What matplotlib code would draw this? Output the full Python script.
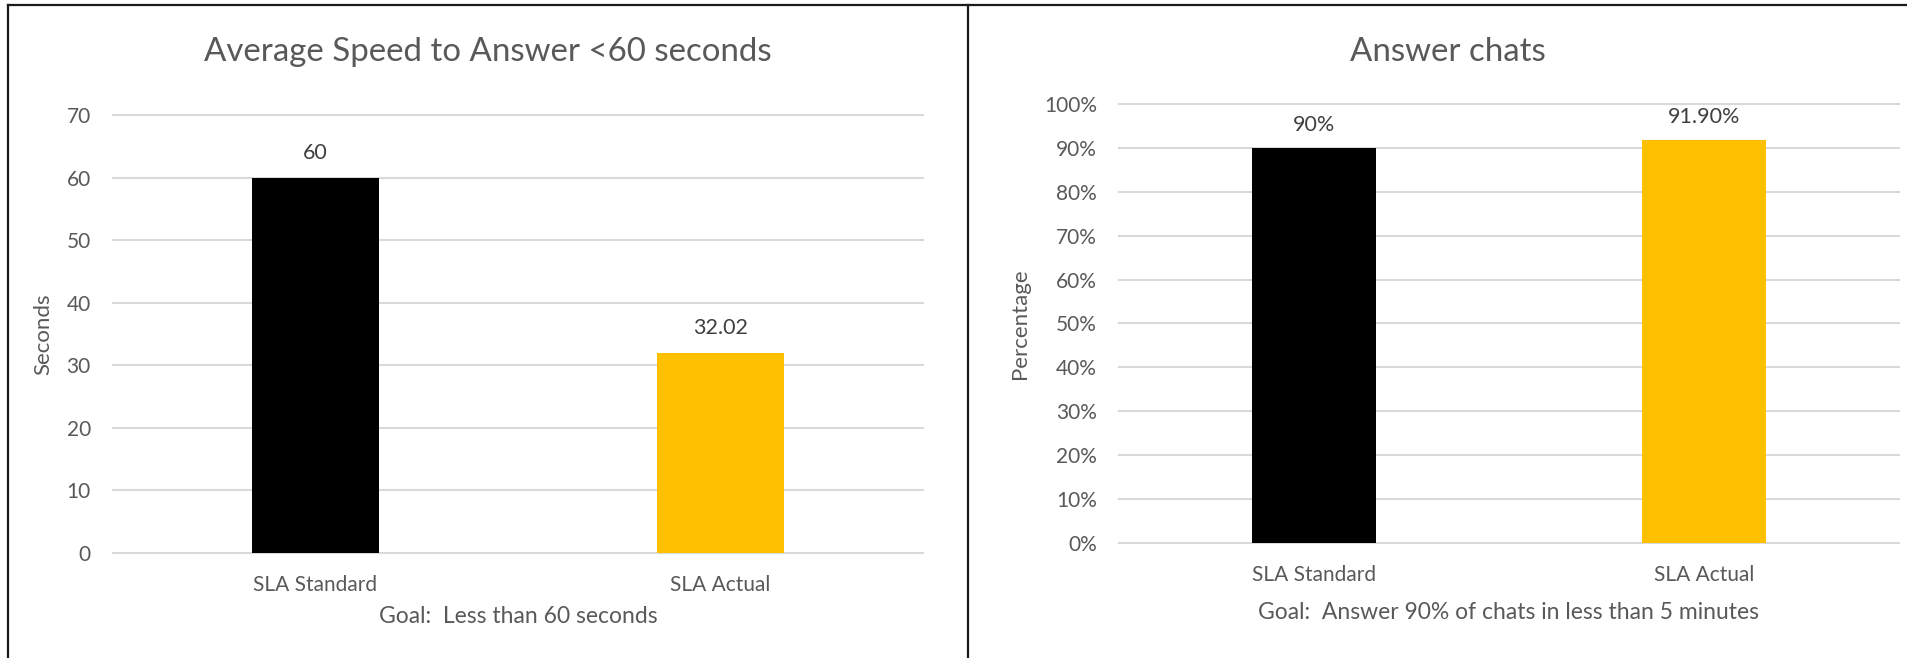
"""
SLA chart: average speed to answer / answer chats
"""
import matplotlib
matplotlib.use("Agg")
import matplotlib.pyplot as plt  # noqa: E402
from matplotlib.lines import Line2D  # noqa: E402

plt.rcParams["font.family"] = ["Lato", "DejaVu Sans"]

# --- data ---
CATEGORIES = ["SLA Standard", "SLA Actual"]
BAR_COLORS = ["#000000", "#FFC000"]

SPEED_VALUES = [60, 32.02]
SPEED_LABELS = ["60", "32.02"]
SPEED_TICKS = [0, 10, 20, 30, 40, 50, 60, 70]

CHAT_VALUES = [0.90, 0.919]
CHAT_LABELS = ["90%", "91.90%"]
CHAT_TICKS = [0.0, 0.1, 0.2, 0.3, 0.4, 0.5, 0.6, 0.7, 0.8, 0.9, 1.0]

TEXT = "#595959"
LABEL_TEXT = "#404040"
GRID = "#d9d9d9"
W, H = 1908, 658


def px_box(x0, y0, x1, y1):
    # pixel box (origin top-left) -> figure fraction rect
    return [x0 / W, 1 - y1 / H, (x1 - x0) / W, (y1 - y0) / H]


def draw_panel(ax, values, labels, ticks, ymax, tick_fmt, ylabel, xlabel,
               ylabel_x, xlabel_y, label_offset):
    xs = list(range(len(values)))
    ax.bar(xs, values, width=0.316, color=BAR_COLORS, zorder=3)
    for x, v, lab in zip(xs, values, labels):
        ax.annotate(lab, (x, v), xytext=(0, label_offset), textcoords="offset pixels",
                    ha="center", va="center", fontsize=15.5, color=LABEL_TEXT)
    ax.set_xlim(-0.5, len(values) - 0.5)
    ax.set_ylim(0, ymax)
    ax.set_yticks(ticks)
    ax.set_yticklabels([tick_fmt(t) for t in ticks])
    ax.set_xticks(xs)
    ax.set_xticklabels(CATEGORIES)
    ax.grid(axis="y", color=GRID, lw=1.5)
    ax.set_axisbelow(True)
    for gl in ax.get_ygridlines():
        gl.set_clip_on(False)
    for s in ax.spines.values():
        s.set_visible(False)
    ax.tick_params(length=0, colors=TEXT, labelsize=15)
    ax.tick_params(axis="y", pad=16)
    ax.tick_params(axis="x", pad=15.5)
    ax.set_ylabel(ylabel, fontsize=16, color=TEXT, va="center")
    ax.yaxis.set_label_coords(ylabel_x, 0.5)
    ax.set_xlabel(xlabel, fontsize=16.5, color=TEXT, va="center")
    ax.xaxis.set_label_coords(0.5, xlabel_y)


def main() -> None:
    fig = plt.figure(figsize=(W / 100, H / 100), dpi=100)

    ax1 = fig.add_axes(px_box(113, 115, 923, 553))
    draw_panel(ax1, SPEED_VALUES, SPEED_LABELS, SPEED_TICKS, 70,
               lambda t: f"{t:g}", "Seconds", "Goal:  Less than 60 seconds",
               -0.0864, -0.144, 25)

    ax2 = fig.add_axes(px_box(1119, 104, 1899, 543))
    draw_panel(ax2, CHAT_VALUES, CHAT_LABELS, CHAT_TICKS, 1.0,
               lambda t: f"{t:.0%}", "Percentage",
               "Goal:  Answer 90% of chats in less than 5 minutes",
               -0.127, -0.159, 23)

    fig.text(488 / W, 1 - 52 / H, "Average Speed to Answer <60 seconds",
             ha="center", va="center", fontsize=23.8, color=TEXT)
    fig.text(1448 / W, 1 - 52 / H, "Answer chats",
             ha="center", va="center", fontsize=23.8, color=TEXT)

    # chart frames
    fig.add_artist(Line2D([8 / W, 8 / W], [0, 1 - 5 / H], color="#1a1a1a", lw=1.6))
    fig.add_artist(Line2D([8 / W, 1], [1 - 5 / H, 1 - 5 / H], color="#1a1a1a", lw=1.6))
    fig.add_artist(Line2D([968 / W, 968 / W], [0, 1 - 5 / H], color="#1a1a1a", lw=1.6))

    fig.savefig("out.png", dpi=100)


if __name__ == "__main__":
    main()
